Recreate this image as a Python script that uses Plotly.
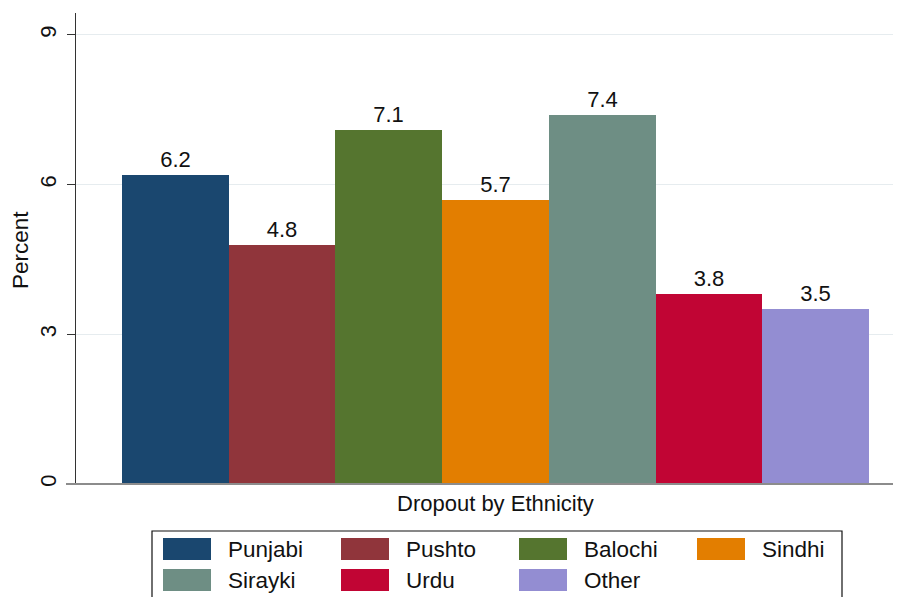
import plotly.graph_objects as go

categories = ["Punjabi", "Pushto", "Balochi", "Sindhi", "Sirayki", "Urdu", "Other"]
values = [6.2, 4.8, 7.1, 5.7, 7.4, 3.8, 3.5]
colors = ["#1a476f", "#90353b", "#55752f", "#e37e00", "#6e8e84", "#c10534", "#938dd2"]
y_ticks = [0, 3, 6, 9]
x_title = "Dropout by Ethnicity"
y_title = "Percent"

# page body has an 8px default margin; figure fills the rest of the 901x597 window
OFF = 8
W, H = 901 - OFF, 597 - OFF
L_REF, T_REF, B_REF = 76, 13, 484
L, T, B = L_REF - OFF, T_REF - OFF, B_REF - OFF
PW, PH = W - L, B - T

def px(xr):
    """reference-window x pixel -> paper coordinate"""
    return (xr - L_REF) / PW

def py(yr):
    """reference-window y pixel -> paper coordinate"""
    return (B_REF - yr) / PH

FONT = "Liberation Sans, Arial, sans-serif"
TXT = "#111111"

fig = go.Figure()
fig.add_trace(go.Bar(
    x=list(range(len(categories))), y=values,
    marker=dict(color=colors, line=dict(width=0)),
    width=1.0,
    texttemplate="%{y:.1f}", textposition="outside",
    textfont=dict(size=22, color=TXT, family=FONT),
    cliponaxis=False, showlegend=False,
    hovertext=categories,
))

shapes = []
annotations = []

# x baseline extending slightly left of the y axis
shapes.append(dict(type="line", xref="paper", yref="paper", x0=px(66), x1=1.0,
                   y0=0, y1=0, line=dict(color="#8c8c8c", width=2), layer="above"))

# legend box with large swatches
shapes.append(dict(type="rect", xref="paper", yref="paper",
                   x0=px(152), x1=px(842), y0=py(531), y1=py(612),
                   line=dict(color="#111111", width=1.2), fillcolor="white"))
for i, (name, c) in enumerate(zip(categories, colors)):
    row, col = divmod(i, 4)
    sx = 163 + col * 178
    sy = 538 + row * 31
    shapes.append(dict(type="rect", xref="paper", yref="paper",
                       x0=px(sx), x1=px(sx + 48), y0=py(sy), y1=py(sy + 22),
                       line=dict(width=0), fillcolor=c))
    annotations.append(dict(text=name, xref="paper", yref="paper",
                            x=px(sx + 63), y=py(sy + 11), xanchor="left", yanchor="middle",
                            showarrow=False, font=dict(size=22.5, color=TXT, family=FONT)))

annotations.append(dict(text=x_title, xref="paper", yref="paper",
                        x=px(496), y=py(503), xanchor="center", yanchor="middle",
                        showarrow=False, font=dict(size=22, color=TXT, family=FONT)))
annotations.append(dict(text=y_title, xref="paper", yref="paper",
                        x=px(20), y=py(250), xanchor="center", yanchor="middle", textangle=-90,
                        showarrow=False, font=dict(size=22.5, color=TXT, family=FONT)))

fig.update_layout(
    width=W, height=H,
    margin=dict(l=L, r=0, t=T, b=H - B, pad=0),
    paper_bgcolor="white", plot_bgcolor="white",
    bargap=0,
    shapes=shapes, annotations=annotations,
    font=dict(family=FONT, color=TXT),
    xaxis=dict(range=[-0.931, 6.80], showticklabels=False, ticks="", showgrid=False,
               zeroline=False, showline=False, fixedrange=True),
    yaxis=dict(range=[0, 9.44], tickvals=y_ticks, ticktext=[str(t) for t in y_ticks],
               tickangle=-90, ticks="outside", ticklen=8, tickcolor="#333333", tickwidth=1,
               ticklabelstandoff=2,
               tickfont=dict(size=22, color=TXT, family=FONT),
               showgrid=True, gridcolor="#e6ecef", gridwidth=1,
               zeroline=False, showline=True, linecolor="#333333", linewidth=1),
)

fig.write_html("out.html")
